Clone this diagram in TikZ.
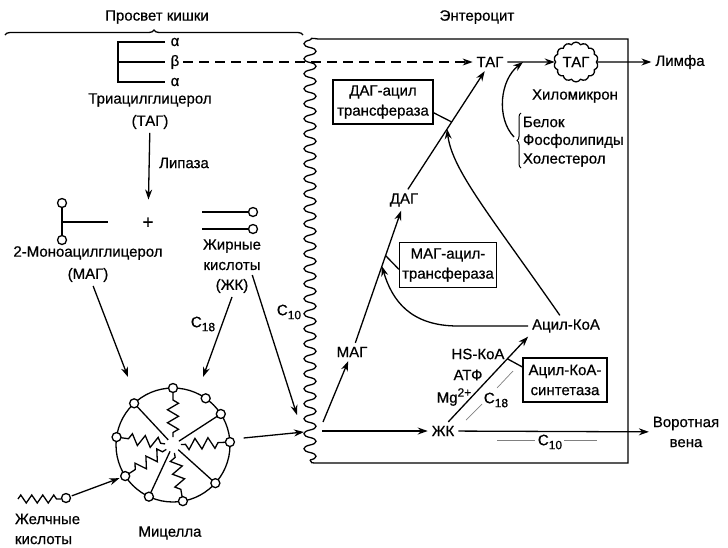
\documentclass[tikz,border=0pt]{standalone}
\usepackage{fontspec}
\setmainfont{Liberation Sans}[FakeBold=0.6]
\usetikzlibrary{arrows.meta,calc,decorations.pathreplacing,decorations.pathmorphing,shapes.symbols}
\newcommand{\lowidx}[1]{\raisebox{-4pt}{\fontsize{12}{12}\selectfont #1}}
\newcommand{\upidx}[1]{\raisebox{6pt}{\fontsize{12}{12}\selectfont #1}}
\tikzset{
  arr/.style={-{Stealth[length=10pt,width=7pt]}},
  head/.style={circle,draw,fill=white,inner sep=0pt,minimum size=9pt},
  enzbox/.style={draw,align=center,inner sep=2pt},
  zz/.style={decorate,decoration={zigzag,segment length=13pt,amplitude=5.5pt,pre length=8pt,post length=3pt}},
  note/.style={gray,line width=0.7pt},
}
\begin{document}
\begin{tikzpicture}[x=1pt,y=-1pt,line width=1.3pt,font=\fontsize{15}{20}\selectfont]
\useasboundingbox (0,0) rectangle (728,547);
\node (lumen) at (157,17) {Просвет кишки};
\draw[decorate,decoration={brace,amplitude=5pt}] (5,35) -- (303,35);
\node (entero) at (477,17) {Энтероцит};
% membrane and cell
\draw (310,40) \foreach \i in {1,...,28} { .. controls +(-8,1.5) and +(-8,-1.5) .. ++(0,7.5) .. controls +(8,1.5) and +(8,-1.5) .. ++(0,7.5) };
\draw (310,40) .. controls (311,38) .. (318,39) -- (628,39) -- (628,463) -- (318,463) .. controls (311,463) .. (310,460);
% TAG
\draw (165,42) -- (118,42) -- (118,82) -- (165,82);
\draw (118,62) -- (165,62);
\node (al1) at (175,42) {α};
\node (be) at (175,62) {β};
\node (al2) at (175,82) {α};
\node (tag1) at (150,100) {Триацилглицерол};
\node (tag2) at (150,122) {(ТАГ)};
\node (lip) at (184,163) {Липаза};
\node[font=\fontsize{19}{19}\selectfont] (plus) at (148,223) {+};
\draw[arr,shorten >=14pt] (tag2) -- (plus);
% MAG and FA
\node[head] (mh1) at (62,203) {};
\node[head] (mh2) at (62,240) {};
\draw (mh1) -- (mh2);
\draw (62,222) -- (108,222);
\node (mag1) at (88,253) {2-Моноацилглицерол};
\node (mag2) at (88,275) {(МАГ)};
\node[head] (fh1) at (253,212) {};
\node[head] (fh2) at (253,229) {};
\draw (202,212) -- (fh1);
\draw (202,229) -- (fh2);
\node (fa1) at (232,246) {Жирные};
\node (fa2) at (232,266) {кислоты};
\node (fa3) at (232,286) {(ЖК)};
% micelle
\coordinate (M) at (173,445);
\draw (M) circle (57pt);
\foreach \a in {33,-42,-115,133}
  \draw ($(M)+(\a:53pt)$) -- ($(M)+(\a:7pt)$);
\foreach \a in {90,3,-80,-147,172}
  \draw[zz] ($(M)+(\a:53pt)$) -- ($(M)+(\a:8pt)$);
\foreach \a [count=\i] in {90,55,33,3,-42,-80,-115,-147,172,133}
  \node[head] (h\i) at ($(M)+(\a:57pt)$) {};
\node (mic) at (170,533) {Мицелла};
\draw[decorate,decoration={zigzag,segment length=11pt,amplitude=4pt}] (18,499) -- (61,499);
\node[head] (bh) at (66,498) {};
\node[align=left,anchor=west] (bile) at (11,529) {Желчные\\кислоты};
% into the micelle and the cell
\coordinate (in1) at (128,377);
\coordinate (in2) at (203,377);
\coordinate (memA) at (297,415);
\coordinate (memB) at (304,432);
\coordinate (memC) at (323,422);
\coordinate (memD) at (322,431);
\draw[arr] (mag2.-65) -- (in1);
\draw[arr] (fa3.south) -- (in2);
\node (c18a) at (203,324) {C\lowidx{18}};
\draw[arr] (fa3.north east) -- (memA);
\node (c10a) at (289,312) {C\lowidx{10}};
\draw[arr,shorten <=1pt,shorten >=1pt] (bh) -- (h8);
\draw[arr,shorten <=71pt] (M) -- (memB);
% enterocyte
\node (tagR) at (490,62) {ТАГ};
\node[draw,cloud,cloud puffs=14,cloud puff arc=120,aspect=1.15,inner sep=1pt,minimum width=39pt,minimum height=32pt] (chylo) at (576,62) {ТАГ};
\node (lymph) at (680,62) {Лимфа};
\draw[arr,dash pattern=on 10pt off 6pt] (be) -- (tagR);
\draw[arr] (tagR) -- coordinate[pos=0.33] (tj) (chylo);
\draw[arr] (chylo) -- (lymph);
\node (chyL) at (575,96) {Хиломикрон};
\node[anchor=west] (prot) at (519,122) {Белок};
\node[anchor=west] (phos) at (519,141) {Фосфолипиды};
\node[anchor=west] (chol) at (519,160) {Холестерол};
\draw[decorate,decoration={brace,amplitude=4pt},line width=1pt] (521,168) -- (521,113);
\coordinate (bt) at (514,137);
\draw[arr] (bt) .. controls (496,118) and (500,80) .. (tj);
\node[enzbox,minimum width=100pt,minimum height=44pt] (dagat) at (383,102) {ДАГ-ацил\\трансфераза};
\node (dag) at (404,200) {ДАГ};
\node (magR) at (352,352) {МАГ};
\node[enzbox,minimum width=97pt,minimum height=45pt] (mgat) at (448,265) {МАГ-ацил-\\трансфераза};
\node (acoa) at (566,326) {Ацил-КоА};
\node (hs) at (478,354) {HS-КоА};
\node (atp) at (468,375) {АТФ};
\node (mg) at (454,397) {Mg\upidx{2+}};
\node[enzbox,minimum width=84pt,minimum height=44pt] (acs) at (565,380) {Ацил-КоА-\\синтетаза};
\node (fa) at (443,431) {ЖК};
\node[align=center] (portal) at (686,432) {Воротная\\вена};
\draw[arr] (memC) -- (magR);
\draw[arr] (magR.70) -- coordinate[pos=0.58] (j2b) coordinate[pos=0.66] (j2) (dag.-105);
\draw[arr] (dag.70) -- coordinate[pos=0.51] (j1b) coordinate[pos=0.57] (j1) (tagR.-120);
\draw (dagat.-12) -- (j1);
\draw[arr] (acoa.120) .. controls (490,215) and (452,170) .. (j1b);
\draw (mgat.-175) -- (j2);
\draw[arr] (acoa.west) -- (458,326) .. controls (410,326) and (392,300) .. (j2b);
\draw[arr] (memD) -- (fa);
\draw[arr] (fa) -- (portal);
\draw[arr] (fa.60) -- coordinate[pos=0.74] (j3) (acoa.south west);
\draw (acs.163) -- (j3);
% C18 and C10 routes
\draw[note] (466,420) -- (482,404);
\draw[note] (497,388) -- (513,371);
\node (c18b) at (496,400) {C\lowidx{18}};
\draw[note] (497,440) -- (535,440);
\draw[note] (564,440) -- (597,440);
\node (c10b) at (550,442) {C\lowidx{10}};
\end{tikzpicture}
\end{document}
